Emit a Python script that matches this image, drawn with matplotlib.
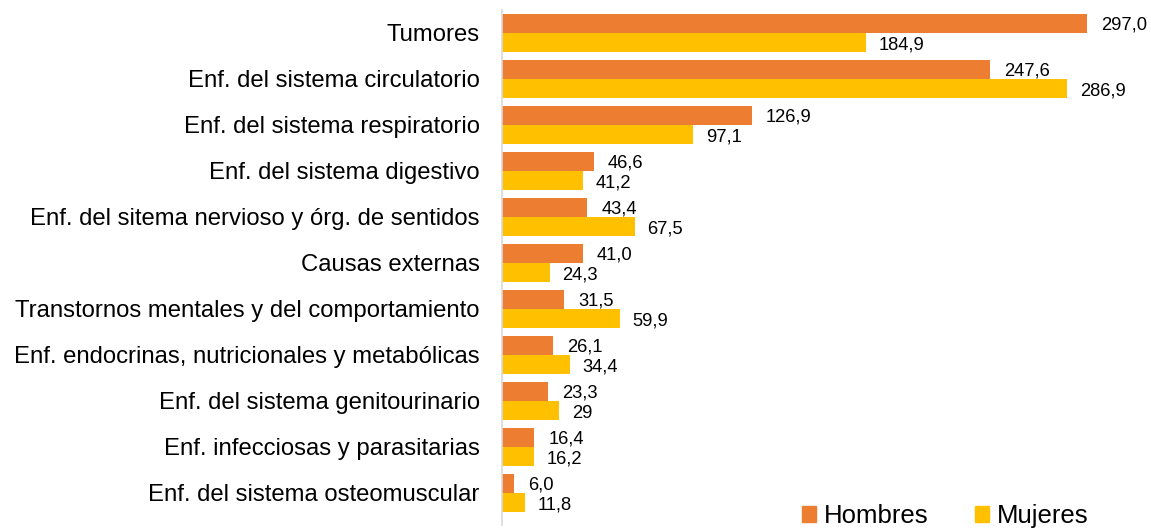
import matplotlib.pyplot as plt
import numpy as np
from matplotlib.patches import Patch

plt.rcParams['font.family'] = ['Liberation Sans', 'DejaVu Sans']

# Data
categorias = ['Tumores',
              'Enf. del sistema circulatorio',
              'Enf. del sistema respiratorio',
              'Enf. del sistema digestivo',
              'Enf. del sitema nervioso y órg. de sentidos',
              'Causas externas',
              'Transtornos mentales y del comportamiento',
              'Enf. endocrinas, nutricionales y metabólicas',
              'Enf. del sistema genitourinario',
              'Enf. infecciosas y parasitarias',
              'Enf. del sistema osteomuscular']
hombres = [297.0, 247.6, 126.9, 46.6, 43.4, 41.0, 31.5, 26.1, 23.3, 16.4, 6.0]
mujeres = [184.9, 286.9, 97.1, 41.2, 67.5, 24.3, 59.9, 34.4, 29.0, 16.2, 11.8]
etiq_hombres = ['297,0', '247,6', '126,9', '46,6', '43,4', '41,0', '31,5', '26,1', '23,3', '16,4', '6,0']
etiq_mujeres = ['184,9', '286,9', '97,1', '41,2', '67,5', '24,3', '59,9', '34,4', '29', '16,2', '11,8']

c_h = '#ED7D31'
c_m = '#FFC000'

W, H = 1151, 528
fig = plt.figure(figsize=(W / 100, H / 100), dpi=100)
# axes from x=502..1140 px, y=10..525 px
ax = fig.add_axes([502 / W, 1 - 525 / H, 638 / W, 515 / H])

y = np.arange(len(categorias))
bh = 19 / 46
ax.barh(y - bh / 2, hombres, height=bh, color=c_h, label='Hombres')
ax.barh(y + bh / 2, mujeres, height=bh, color=c_m, label='Mujeres')

for i in range(len(categorias)):
    ax.annotate(etiq_hombres[i], (hombres[i], y[i] - bh / 2), xytext=(10, -1),
                textcoords='offset points', va='center', ha='left', fontsize=13.2, color='#000000')
    ax.annotate(etiq_mujeres[i], (mujeres[i], y[i] + bh / 2), xytext=(9, -2),
                textcoords='offset points', va='center', ha='left', fontsize=13.2, color='#000000')

ax.set_xlim(0, 638 / 1.97)
ax.set_ylim(10.696, -0.5)
ax.set_yticks(y)
ax.set_yticklabels(categorias, fontsize=17.2, color='#000000')
ax.tick_params(axis='y', length=0, pad=16)
ax.set_xticks([])
for s in ['top', 'right', 'bottom']:
    ax.spines[s].set_visible(False)
ax.spines['left'].set_color('#D9D9D9')
ax.spines['left'].set_linewidth(1.2)

handles = [Patch(color=c_h, label='Hombres'), Patch(color=c_m, label='Mujeres')]
fig.legend(handles=handles, loc='center left', bbox_to_anchor=(802 / W, 1 - 516 / H),
           ncol=2, frameon=False, fontsize=18.5, handlelength=0.55, handleheight=0.55,
           handletextpad=0.3, columnspacing=1.8, borderpad=0, borderaxespad=0)

fig.savefig('out.png', dpi=100)
